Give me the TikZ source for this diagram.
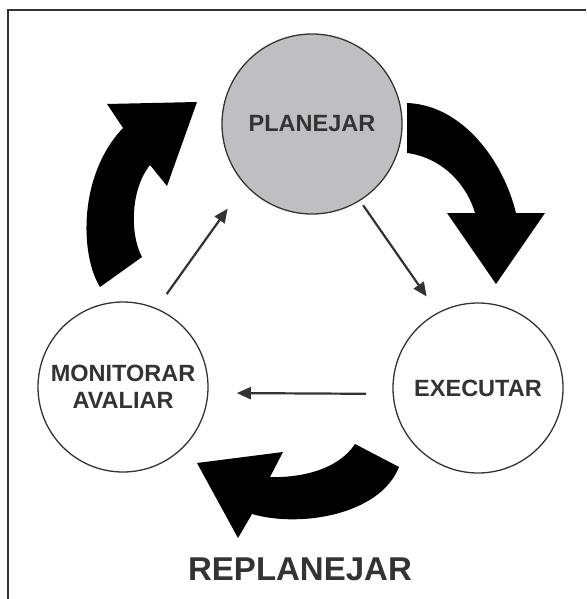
\documentclass[tikz,border=0pt]{standalone}
\usepackage{fontspec}
\setmainfont{Liberation Sans}
\usepackage{tikz}
\usetikzlibrary{arrows.meta}
\definecolor{lineColor}{rgb}{0.2,0.2,0.2}
\definecolor{focusColor}{rgb}{0.75,0.75,0.76}

\begin{document}
\begin{tikzpicture}[x=1pt,y=-1pt]

          \tikzstyle{stageNode} = [circle, draw=lineColor, line width=1.3pt, fill=white, minimum size=170pt, inner sep=0pt, outer sep=0pt, text=lineColor, font=\fontsize{23.5}{27}\selectfont\bfseries, align=center];
          \tikzstyle{focusNode} = [stageNode, fill=focusColor, minimum size=180pt];
          \tikzstyle{thinEdge} = [lineColor, line width=2.2pt, -{Triangle[length=14pt,width=12pt]}];
          \tikzstyle{bigArrow} = [fill=black];

          \useasboundingbox (0,0) rectangle (586,599);
          \draw[lineColor, line width=1.5pt] (586,10) -- (8,10) -- (8,599);

          \node[focusNode] (plan) at (312,124) {PLANEJAR};
          \node[stageNode] (exec) at (478,388) {EXECUTAR};
          \node[stageNode] (mon) at (123,387) {MONITORAR\\AVALIAR};
          \node[text=lineColor, font=\fontsize{33}{36}\selectfont\bfseries] (replan) at (300,569) {REPLANEJAR};

          \draw[thinEdge, shorten <=18pt, shorten >=30pt] (mon.67) -- (plan.222);
          \draw[thinEdge, shorten <=6pt, shorten >=20pt] (plan.-58) -- (exec.118);
          \draw[thinEdge, shorten <=27pt, shorten >=29pt] (exec.184) -- (mon.-4);

          % big curved arrows
          \fill[bigArrow] (100,287) .. controls (80,255) and (78,175) .. (123,128)
            -- (107,104) -- (197,102) -- (167,186) -- (150,165)
            .. controls (130,190) and (130,235) .. (142,257) -- cycle;
          \fill[bigArrow] (407,103) .. controls (462,105) and (503,160) .. (516,213)
            -- (545,213) -- (496,284) -- (447,213) -- (475,213)
            .. controls (468,188) and (445,158) .. (407,153) -- cycle;
          \fill[bigArrow] (399,467) .. controls (380,515) and (300,528) .. (252,514)
            -- (238,538) -- (197,463) -- (283,452) -- (270,477)
            .. controls (300,478) and (338,470) .. (355,444) -- cycle;
        \end{tikzpicture}
\end{document}
